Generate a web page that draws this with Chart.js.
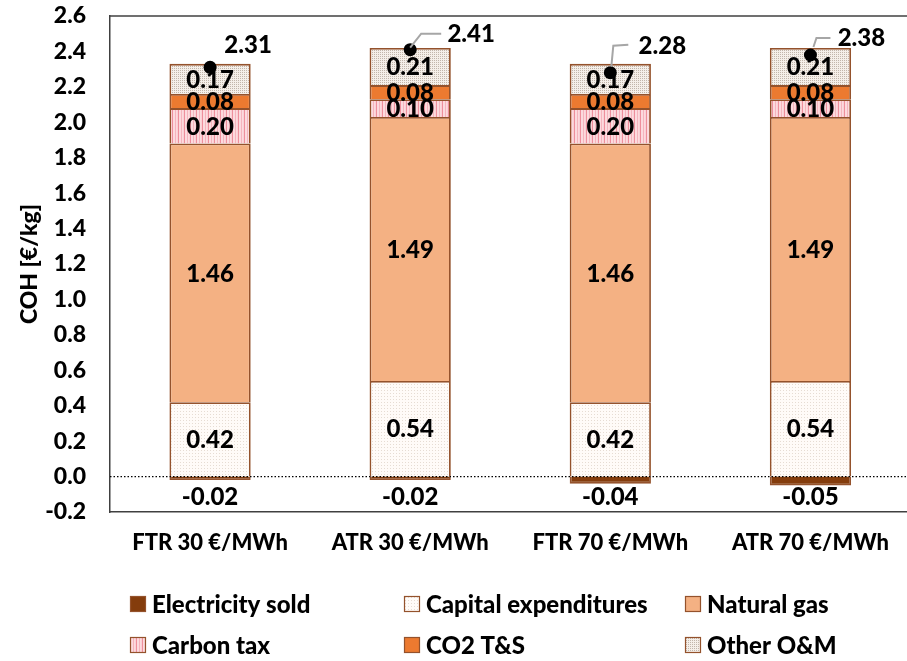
<!DOCTYPE html>
<html>
<head>
<meta charset="utf-8">
<title>Cost of hydrogen breakdown</title>
<script src="https://cdn.jsdelivr.net/npm/chart.js@4.4.1/dist/chart.umd.min.js"></script>
<style>
  html, body { margin: 0; padding: 0; background: #ffffff; overflow: hidden; }
  #wrap { width: 917px; height: 661px; }
</style>
</head>
<body>
<div id="wrap"><canvas id="coh" width="917" height="661"></canvas></div>
<script>
// ---- data ----
const categories = ['FTR 30 €/MWh', 'ATR 30 €/MWh', 'FTR 70 €/MWh', 'ATR 70 €/MWh'];
const electricitySold = [-0.02, -0.02, -0.04, -0.05];
const capitalExpenditures = [0.42, 0.54, 0.42, 0.54];
const naturalGas = [1.46, 1.49, 1.46, 1.49];
const carbonTax = [0.20, 0.10, 0.20, 0.10];
const co2TransportStorage = [0.08, 0.08, 0.08, 0.08];
const otherOM = [0.17, 0.21, 0.17, 0.21];
const totalCOH = [2.31, 2.41, 2.28, 2.38];
const yMin = -0.2, yMax = 2.6, yStep = 0.2;

// ---- styling ----
const FONT = 'Lato, "Open Sans", sans-serif';
const WEIGHT = '900';
const EDGE = '#94522c';
const AXIS = '#404040';

const canvas = document.getElementById('coh');
const ctx = canvas.getContext('2d');

function tile(w, h, paint) {
  const c = document.createElement('canvas');
  c.width = w; c.height = h;
  const g = c.getContext('2d');
  paint(g);
  return ctx.createPattern(c, 'repeat');
}
function px(g, x, y, col) { g.fillStyle = col; g.fillRect(x, y, 1, 1); }

// sparse dots on near white
const capexFill = tile(3, 3, g => {
  g.fillStyle = '#fffbf8'; g.fillRect(0, 0, 3, 3);
  px(g, 0, 0, '#e6dcd3');
});
// dense dotted texture on beige
const otherFill = tile(2, 2, g => {
  g.fillStyle = '#f5efe9'; g.fillRect(0, 0, 2, 2);
  px(g, 0, 0, '#c2b6ab');
});
// vertical red stripes on pink
const carbonFill = tile(6, 1, g => {
  const cols = ['#fcdade', '#f5b4bd', '#fcdade', '#fad0d5', '#ee8f9c', '#fcdade'];
  cols.forEach((c, i) => px(g, i, 0, c));
});

function barSet(label, data, fill) {
  return {
    type: 'bar', label, data,
    backgroundColor: fill, borderColor: EDGE, borderWidth: 1.8,
    stack: 'coh', order: 2,
    barPercentage: 0.406, categoryPercentage: 1.0
  };
}

const datasets = [
  barSet('Electricity sold', electricitySold, '#843c0c'),
  barSet('Capital expenditures', capitalExpenditures, capexFill),
  barSet('Natural gas', naturalGas, '#f4b183'),
  barSet('Carbon tax', carbonTax, carbonFill),
  barSet('CO2 T&S', co2TransportStorage, '#ec7a30'),
  barSet('Other O&M', otherOM, otherFill),
  {
    type: 'line', label: 'Total', data: totalCOH, stack: 'total', order: 0,
    showLine: false, pointRadius: 6.5, pointHoverRadius: 6.5,
    pointBackgroundColor: '#000000', pointBorderColor: '#000000', pointBorderWidth: 0
  }
];

// total label placement and leader lines, relative to each total marker
const totalCallouts = [
  { dx: 38, dy: -22, leader: null },
  { dx: 61, dy: -15, leader: [[0, -2], [11, -16], [31, -16]] },
  { dx: 52, dy: -26, leader: [[1, -6], [3, -27], [18, -28]] },
  { dx: 51, dy: -17, leader: [[3, -8], [6, -17], [20, -17]] }
];

const frame = {
  id: 'frame',
  beforeDatasetsDraw(chart) {
    const { ctx: c, chartArea: a } = chart;
    c.save();
    c.strokeStyle = AXIS; c.lineWidth = 1.5;
    c.beginPath(); c.moveTo(a.left, a.top); c.lineTo(a.right + 2, a.top); c.stroke();
    c.restore();
  },
  afterDatasetsDraw(chart) {
    const { ctx: c, chartArea: a, scales } = chart;
    const y0 = scales.y.getPixelForValue(0);
    // zero reference line
    c.save();
    c.strokeStyle = '#000000'; c.lineWidth = 1.2; c.setLineDash([1.5, 2]);
    c.beginPath(); c.moveTo(a.left, y0); c.lineTo(a.right, y0); c.stroke();
    c.restore();

    // segment values
    c.save();
    c.fillStyle = '#000000';
    c.font = WEIGHT + ' 24px ' + FONT;
    c.textAlign = 'center'; c.textBaseline = 'middle';
    for (let d = 0; d < 6; d++) {
      const meta = chart.getDatasetMeta(d);
      meta.data.forEach((el, i) => {
        const p = el.getProps(['x', 'y', 'base'], true);
        const v = chart.data.datasets[d].data[i];
        const ty = d === 0 ? y0 + 21 : (p.y + p.base) / 2 + 1;
        c.fillText(v.toFixed(2), p.x, ty);
      });
    }
    // totals with leader lines
    const tm = chart.getDatasetMeta(6);
    tm.data.forEach((el, i) => {
      const p = el.getProps(['x', 'y'], true);
      const co = totalCallouts[i];
      if (co.leader) {
        c.strokeStyle = '#a6a6a6'; c.lineWidth = 2;
        c.beginPath();
        co.leader.forEach(([lx, ly], k) => {
          if (k === 0) c.moveTo(p.x + lx, p.y + ly); else c.lineTo(p.x + lx, p.y + ly);
        });
        c.stroke();
      }
      c.fillStyle = '#000000';
      c.fillText(totalCOH[i].toFixed(2), p.x + co.dx, p.y + co.dy);
    });
    c.restore();
  },
  afterDraw(chart) {
    const { ctx: c, chartArea: a } = chart;
    // vertical axis title
    c.save();
    c.fillStyle = '#000000';
    c.font = WEIGHT + ' 23px ' + FONT;
    c.textAlign = 'center'; c.textBaseline = 'middle';
    c.translate(30, (a.top + a.bottom) / 2);
    c.rotate(-Math.PI / 2);
    c.fillText('COH [€/kg]', 0, 0);
    c.restore();

    // legend in a 3 x 2 grid
    const cols = [130, 404, 685];
    const rows = [604, 645];
    c.save();
    c.font = WEIGHT + ' 24px ' + FONT;
    c.textAlign = 'left'; c.textBaseline = 'middle';
    for (let d = 0; d < 6; d++) {
      const ds = chart.data.datasets[d];
      const x = cols[d % 3], y = rows[Math.floor(d / 3)];
      c.fillStyle = ds.backgroundColor;
      c.fillRect(x, y - 8, 16, 16);
      c.strokeStyle = EDGE; c.lineWidth = 1.2;
      c.strokeRect(x + 0.5, y - 7.5, 15, 15);
      c.fillStyle = '#000000';
      c.fillText(ds.label, x + 22, y + 1);
    }
    c.restore();
  }
};

new Chart(ctx, {
  data: { labels: categories, datasets },
  options: {
    responsive: false,
    animation: false,
    events: [],
    layout: { padding: { top: 16, bottom: 99, left: 0, right: 0 } },
    plugins: { legend: { display: false }, tooltip: { enabled: false } },
    scales: {
      x: {
        stacked: true,
        grid: { display: false, drawTicks: false },
        border: { display: true, color: AXIS, width: 1.5 },
        ticks: { color: '#000000', padding: 18, font: { family: FONT, size: 22, weight: WEIGHT }, maxRotation: 0 },
        afterFit(s) { s.height = 50; s.paddingLeft = 0; s.paddingRight = 0; }
      },
      y: {
        stacked: true,
        min: yMin, max: yMax,
        grid: { display: false, drawTicks: false },
        border: { display: true, color: AXIS, width: 1.5 },
        ticks: {
          stepSize: yStep, color: '#000000', padding: 24,
          font: { family: FONT, size: 23, weight: WEIGHT },
          callback: v => Number(v).toFixed(1)
        },
        afterFit(s) { s.width = 110; s.paddingTop = 0; s.paddingBottom = 0; }
      }
    }
  },
  plugins: [frame]
});
</script>
</body>
</html>
